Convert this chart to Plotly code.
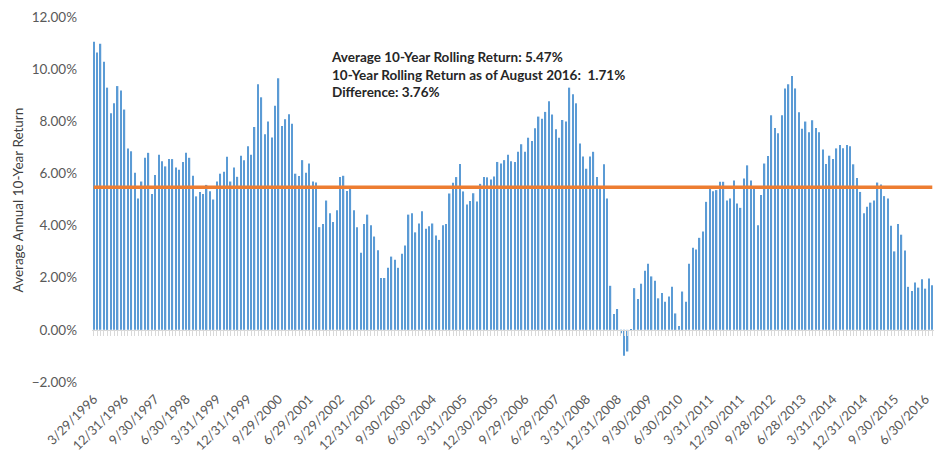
import pandas as pd
import plotly.graph_objects as go

# Monthly 10-year rolling returns (%), Mar 1996 .. Aug 2016
returns = [
    11.05, 10.64, 10.97, 10.28, 9.29, 8.31, 8.69, 9.35, 9.18, 8.45,
    6.96, 6.85, 6.03, 5.04, 5.69, 6.60, 6.79, 5.21, 5.94, 6.72,
    6.47, 6.27, 6.55, 6.55, 6.23, 6.14, 6.44, 6.79, 6.60, 5.91,
    5.12, 5.29, 5.21, 5.56, 5.32, 5.00, 5.69, 5.99, 6.06, 6.64,
    5.69, 6.23,
    5.87, 6.68, 6.51, 7.04, 6.72, 7.78, 9.42, 8.92, 7.50, 7.99,
    7.38, 8.60, 9.65, 7.82, 8.08, 8.27, 7.91, 5.99, 5.90, 6.51,
    6.03, 6.38, 5.69, 5.65, 3.94, 4.06, 4.96, 4.47, 4.14, 4.59,
    5.86, 5.91, 5.33, 5.41, 4.59, 3.94, 2.96, 4.06, 4.42, 4.01,
    3.58,
    3.05, 1.99, 1.99, 2.38, 2.81, 2.69, 2.38, 2.92, 3.24, 4.42,
    4.47, 3.74, 4.08, 4.55, 3.88, 3.97, 4.08, 3.62, 3.45, 4.01,
    4.06, 5.23, 5.64, 5.86, 6.36, 5.31, 4.81, 4.94, 5.24, 4.92,
    5.60, 5.86, 5.85, 5.77, 5.88, 6.44, 6.38, 6.51, 6.72, 6.47,
    6.44,
    6.83, 7.12, 6.83, 7.37, 7.24, 7.73, 8.18, 8.10, 8.36, 8.77,
    8.26, 7.69, 7.37, 8.05, 7.99, 9.29, 9.04, 8.69, 7.15, 6.65,
    6.18, 6.65, 6.83, 5.86, 5.45, 6.35, 5.04, 1.69, 0.61, 0.80,
    -0.13, -0.99, -0.83, 0.03, 1.60, 1.18, 1.77, 2.27, 2.54, 2.05,
    1.88,
    1.21, 1.41, 1.08, 1.28, 1.65, 0.63, 0.15, 1.47, 1.08, 2.54,
    3.15, 3.08, 3.53, 3.77, 4.91, 5.45, 5.32, 5.36, 5.68, 5.68,
    4.96, 5.04, 5.73, 4.85, 4.68, 5.81, 6.31, 5.73, 5.42, 4.01,
    5.17, 6.38, 6.67, 8.23, 7.74, 7.54, 8.23, 9.26, 9.42, 9.74,
    9.26, 8.35, 7.71, 7.99, 7.58, 8.04, 7.74, 7.58, 6.92, 6.36,
    6.68, 6.55, 6.96, 7.09, 6.97, 7.09, 7.04, 6.35, 5.82, 5.29,
    4.47, 4.72, 4.88, 4.96, 5.65, 5.58, 5.13, 5.04, 3.99, 3.01,
    4.06, 3.65, 3.04, 1.65, 1.49, 1.82, 1.62, 1.94, 1.58, 1.97,
    1.71,
]

months = [p.strftime("%Y-%m") for p in pd.period_range("1996-03", periods=len(returns), freq="M")]

average_return = 5.47
average_line = [average_return] * len(returns)

tick_labels = [
    "3/29/1996", "12/31/1996", "9/30/1997", "6/30/1998", "3/31/1999", "12/31/1999",
    "9/29/2000", "6/29/2001", "3/29/2002", "12/31/2002", "9/30/2003", "6/30/2004",
    "3/31/2005", "12/30/2005", "9/29/2006", "6/29/2007", "3/31/2008", "12/31/2008",
    "9/30/2009", "6/30/2010", "3/31/2011", "12/30/2011", "9/28/2012", "6/28/2013",
    "3/31/2014", "12/31/2014", "9/30/2015", "6/30/2016",
]
tick_step = 9
tick_positions = months[::tick_step][:len(tick_labels)]

FONT = "Lato"
GREY = "#595959"

fig = go.Figure()
fig.add_trace(go.Bar(x=months, y=returns, marker=dict(color="#5B9BD5", line=dict(width=0)),
                     xaxis="x", yaxis="y", showlegend=False))
fig.add_trace(go.Scatter(x=months, y=average_line, mode="lines",
                         line=dict(color="#ED7D31", width=3.5),
                         xaxis="x2", yaxis="y", showlegend=False))

rng = [-0.5, len(months) - 0.5]
fig.update_layout(
    width=936, height=452,
    margin=dict(l=92, r=2, t=17, b=70, autoexpand=False),
    paper_bgcolor="white", plot_bgcolor="white",
    bargap=0.6,
    font=dict(family=FONT, color=GREY, size=13),
    xaxis=dict(type="category", categoryorder="array", categoryarray=months, range=rng,
               tickmode="array", tickvals=tick_positions, ticktext=tick_labels,
               tickangle=-45, showline=False, showgrid=False, zeroline=False, ticks="",
               automargin=False, ticklabelstandoff=6,
               tickfont=dict(family=FONT, size=13, color=GREY)),
    xaxis2=dict(type="category", categoryorder="array", categoryarray=months, range=rng,
                overlaying="x", anchor="free", position=2 / 14,
                showticklabels=False, showgrid=False, zeroline=False,
                showline=True, linecolor="#D9D9D9", linewidth=1,
                ticks="outside", ticklen=5, tickcolor="#D9D9D9", tickwidth=1,
                tickmode="linear", tick0=0, dtick=1, automargin=False),
    yaxis=dict(range=[-2, 12], dtick=2, tick0=0, tickformat=".2f", ticksuffix="%",
               showgrid=False, zeroline=False, showline=False, ticks="",
               ticklabelstandoff=14, automargin=False,
               tickfont=dict(family=FONT, size=13.5, color=GREY)),
    annotations=[
        dict(text="Average Annual 10-Year Return", xref="paper", yref="paper",
             x=-0.088, y=0.5, textangle=-90, showarrow=False,
             xanchor="center", yanchor="middle",
             font=dict(family=FONT, size=13.5, color="#404040")),
        dict(text="<b>Average 10-Year Rolling Return: 5.47%<br>"
                  "10-Year Rolling Return as of August 2016:  1.71%<br>"
                  "Difference: 3.76%</b>",
             xref="paper", yref="paper", x=0.281, y=0.918, xanchor="left", yanchor="top",
             align="left", showarrow=False,
             font=dict(family=FONT, size=13.5, color="#262626")),
    ],
)

fig.write_html("out.html", config={"displayModeBar": False},
               post_script="document.body.style.margin='0';document.body.style.overflow='hidden';")
